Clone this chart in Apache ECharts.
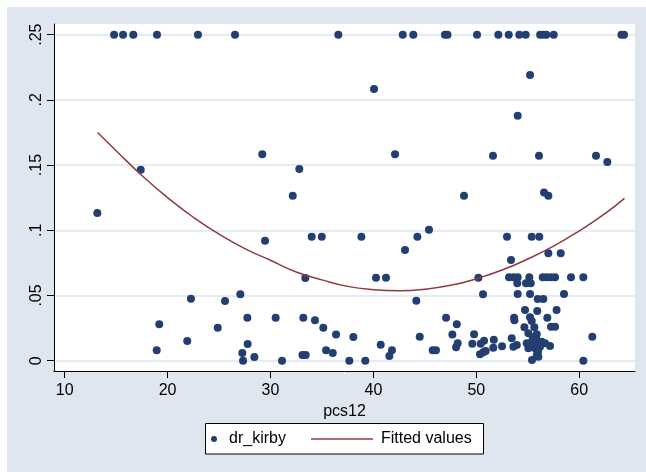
<!DOCTYPE html>
<html>
<head>
<meta charset="utf-8">
<script src="https://cdn.jsdelivr.net/npm/echarts@6/dist/echarts.min.js"></script>
<style>
html,body{margin:0;padding:0;background:#ffffff;}
#bg{position:absolute;left:7px;top:7px;width:639px;height:465px;background:#e0e6f0;}
#main{position:absolute;left:0;top:0;width:646px;height:472px;}
</style>
</head>
<body>
<div id="bg"></div>
<div id="main"></div>
<script>
// scatter data (pcs12, dr_kirby)
const pcs12 = [
  14.8, 15.67, 16.67, 18.97, 22.95, 26.55, 36.59, 42.85, 43.88, 46.95, 47.2, 50.07, 52.14, 53.15, 54.18, 54.8, 56.2, 56.5, 56.8, 57.52, 64.1, 64.35,
  40.06, 55.22, 54.02, 29.2, 42.1, 51.62, 56.09, 61.63, 62.73, 17.39, 32.8, 32.16, 48.8, 56.58, 57.0, 13.17,
  45.4, 29.47, 34.0, 34.98, 38.83, 44.27, 52.98, 55.38, 56.12, 43.07, 57.0, 58.2, 53.37,
  33.38, 40.25, 41.22, 50.2, 53.18, 53.6, 54.02, 55.15, 56.45, 56.84, 57.26, 57.65, 59.2, 60.4,
  53.98, 54.83, 55.29, 50.65, 54.02, 55.22, 58.52, 27.07, 22.27, 25.58, 44.17, 55.97, 56.51,
  54.73, 55.92, 57.8, 27.75, 30.5, 33.19, 47.06, 53.67, 53.7, 55.22, 55.38, 56.9, 34.32,
  19.19, 48.1, 24.87, 35.13, 54.67, 55.64, 57.26, 57.65, 36.37, 47.67, 49.78, 55.06, 55.87,
  38.05, 44.5, 61.27, 51.7, 53.44, 50.75, 21.91, 27.78, 40.71, 48.19, 49.61, 50.42,
  54.9, 55.38, 55.87, 56.35, 56.68, 57.16, 53.93, 53.6, 52.5, 51.65, 48.03, 55.06, 55.7, 56.19,
  18.94, 35.4, 41.8, 45.76, 46.08, 50.91, 50.68, 36.05, 27.26, 50.36, 33.1, 33.42, 55.87,
  41.55, 28.43, 56.03, 27.33, 31.12, 37.66, 39.21, 55.41, 60.4,
  55.5, 55.7, 56.0, 55.2
];
const drKirby = [
  0.25, 0.25, 0.25, 0.25, 0.25, 0.25, 0.25, 0.25, 0.25, 0.25, 0.25, 0.25, 0.25, 0.25, 0.25, 0.25, 0.25, 0.25, 0.25, 0.25, 0.25, 0.25,
  0.2084, 0.2191, 0.1879, 0.1583, 0.1583, 0.1572, 0.1572, 0.1572, 0.1524, 0.1465, 0.147, 0.1265, 0.1265, 0.129, 0.1265, 0.1133,
  0.1005, 0.092, 0.0951, 0.0951, 0.0951, 0.0951, 0.0951, 0.0951, 0.0951, 0.0849, 0.0824, 0.0824, 0.0772,
  0.0634, 0.0637, 0.0637, 0.0637, 0.064, 0.064, 0.064, 0.064, 0.064, 0.064, 0.064, 0.064, 0.064, 0.064,
  0.0593, 0.0593, 0.0593, 0.0509, 0.0511, 0.0511, 0.0511, 0.0509, 0.0476, 0.0458, 0.046, 0.0473, 0.0473,
  0.0389, 0.0381, 0.0389, 0.033, 0.033, 0.033, 0.033, 0.033, 0.031, 0.0333, 0.0304, 0.033, 0.031,
  0.0279, 0.0279, 0.0253, 0.0253, 0.0256, 0.0256, 0.026, 0.026, 0.02, 0.02, 0.0202, 0.021, 0.0202,
  0.0182, 0.0184, 0.0184, 0.016, 0.0172, 0.0153, 0.0151, 0.0128, 0.0123, 0.0133, 0.013, 0.013,
  0.0133, 0.0146, 0.0159, 0.0146, 0.0133, 0.0113, 0.012, 0.0107, 0.011, 0.01, 0.0103, 0.0095, 0.0095, 0.0107,
  0.008, 0.008, 0.008, 0.008, 0.008, 0.0074, 0.0064, 0.0059, 0.0059, 0.0049, 0.0044, 0.0044, 0.0044,
  0.0036, 0.0028, 0.003, 0, 0, 0, 0, 0.0005, 0,
  0.018, 0.012, 0.007, 0.012
];
// fitted values line
const fitX = [13.2, 15, 17.5, 20, 22.5, 25, 27.5, 30, 32.5, 35, 37.5, 40, 42.5, 45, 47.5, 50, 52.5, 55, 57.5, 60, 62.5, 64.4];
const fitY = [0.175, 0.161, 0.142, 0.125, 0.110, 0.097, 0.086, 0.077, 0.068, 0.062, 0.057, 0.0545, 0.0537, 0.0548, 0.0578, 0.0628, 0.0695, 0.078, 0.0878, 0.0995, 0.1128, 0.1245];
// ticks
const xTicks = [10, 20, 30, 40, 50, 60];
const xTickLabels = ['10', '20', '30', '40', '50', '60'];
const yTicks = [0, 0.05, 0.1, 0.15, 0.2, 0.25];
const yTickLabels = ['0', '.05', '.1', '.15', '.2', '.25'];
const seriesNames = ['dr_kirby', 'Fitted values'];

const FONT = "'Liberation Sans', Arial, Helvetica, sans-serif";
const dotColor = '#233f72';
const lineColor = '#903a3f';

const scatterData = pcs12.map((x, i) => [x, drKirby[i]]);
const fitData = fitX.map((x, i) => [x, fitY[i]]);

const chart = echarts.init(document.getElementById('main'), null, {renderer: 'canvas'});
chart.setOption({
  backgroundColor: 'transparent',
  animation: false,
  textStyle: {fontFamily: FONT},
  grid: {
    left: 54, top: 24, right: 11, bottom: 101,
    show: true, backgroundColor: '#ffffff', borderWidth: 0,
    containLabel: false
  },
  xAxis: {
    type: 'value', min: 8.96, max: 65.42,
    name: 'pcs12', nameLocation: 'middle', nameGap: 28,
    nameTextStyle: {fontSize: 16, color: '#000', fontFamily: FONT},
    axisLine: {show: true, onZero: false, lineStyle: {color: '#000', width: 1}},
    axisTick: {show: true, length: 7, customValues: xTicks, lineStyle: {color: '#000'}},
    axisLabel: {customValues: xTicks, fontSize: 16, color: '#000', margin: 12,
      formatter: v => { const i = xTicks.indexOf(v); return i >= 0 ? xTickLabels[i] : ''; }},
    splitLine: {show: false}
  },
  yAxis: {
    type: 'value', min: -0.0079, max: 0.2582,
    axisLine: {show: true, onZero: false, lineStyle: {color: '#000', width: 1}},
    axisTick: {show: true, length: 7, customValues: yTicks, lineStyle: {color: '#000'}},
    axisLabel: {customValues: yTicks, rotate: 90, fontSize: 16, color: '#000', margin: 9,
      formatter: v => { const i = yTicks.findIndex(t => Math.abs(t - v) < 1e-9); return i >= 0 ? yTickLabels[i] : ''; }},
    splitLine: {show: true, lineStyle: {color: '#dde4ee', width: 1.5}}
  },
  legend: [
    {
      data: [{name: seriesNames[0], icon: 'circle'}],
      left: 211, top: 431, padding: 0,
      itemWidth: 20, itemHeight: 6,
      textStyle: {fontSize: 16, color: '#000', fontFamily: FONT}
    },
    {
      data: [{name: seriesNames[1], icon: 'rect'}],
      left: 311, top: 431, padding: 0,
      itemWidth: 62, itemHeight: 1.5,
      itemStyle: {borderWidth: 0},
      textStyle: {fontSize: 16, color: '#000', fontFamily: FONT, padding: [0, 0, 0, 3]}
    }
  ],
  graphic: [
    {type: 'rect', z: 3, shape: {x: 205.5, y: 423.5, width: 278, height: 30.5},
     style: {fill: '#ffffff', stroke: '#000000', lineWidth: 1}}
  ],
  series: [
    {
      name: seriesNames[0], type: 'scatter', data: scatterData,
      symbol: 'circle', symbolSize: 8,
      itemStyle: {color: dotColor, opacity: 1},
      z: 3
    },
    {
      name: seriesNames[1], type: 'line', data: fitData,
      showSymbol: false, symbol: 'none', smooth: true,
      lineStyle: {color: lineColor, width: 1.5},
      itemStyle: {color: lineColor},
      z: 4
    }
  ]
});
</script>
</body>
</html>
